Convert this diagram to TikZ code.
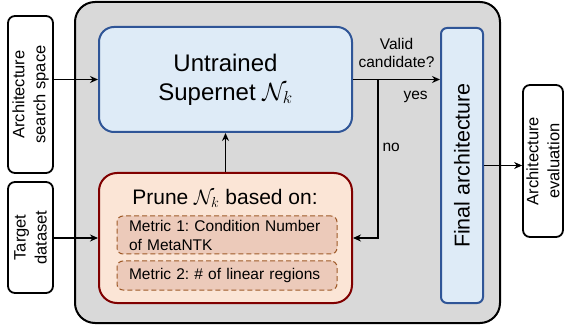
\documentclass[tikz,border=0pt]{standalone}
\usepackage{fontspec}
\setmainfont{Liberation Sans}
\frenchspacing
\usetikzlibrary{arrows.meta, positioning, calc}
\definecolor{panelgray}{RGB}{217,217,217}
\definecolor{netfill}{RGB}{222,235,247}
\definecolor{netdraw}{RGB}{47,85,151}
\definecolor{prunefill}{RGB}{251,229,214}
\definecolor{prunedraw}{RGB}{128,0,0}
\definecolor{metricfill}{RGB}{236,202,186}
\definecolor{metricdraw}{RGB}{158,90,40}
\tikzstyle{panel} = [rectangle, rounded corners=20pt, draw=black, line width=2pt, fill=panelgray]
\tikzstyle{extbox} = [rectangle, rounded corners=7pt, draw=black, line width=1.8pt, fill=white,
    rotate=90, align=center, font=\fontsize{16.5}{21}\selectfont, inner sep=2pt]
\tikzstyle{netbox} = [rectangle, rounded corners=15pt, draw=netdraw, line width=2pt, fill=netfill, align=center]
\tikzstyle{prunebox} = [rectangle, rounded corners=18pt, draw=prunedraw, line width=2pt, fill=prunefill]
\tikzstyle{metric} = [rectangle, rounded corners=6pt, draw=metricdraw, dash pattern=on 5pt off 3pt,
    line width=1pt, fill=metricfill, text width=196pt, inner xsep=12pt, align=left,
    font=\fontsize{15.5}{19}\selectfont]
\tikzstyle{arrow} = [line width=1.1pt, -{Stealth[length=8pt,width=7pt]}]
\tikzstyle{lbl} = [font=\fontsize{15.5}{18}\selectfont, inner sep=2pt, align=center]

\begin{document}
\begin{tikzpicture}[x=1pt, y=1pt]
\useasboundingbox (0,0) rectangle (568,327);
\node (panel) [panel, minimum width=425pt, minimum height=321pt] at (287.5,164.5) {};

\node (arch) [extbox, minimum width=157pt, minimum height=45pt] at (30.5,232.5) {Architecture\\search space};
\node (target) [extbox, minimum width=111pt, minimum height=45pt] at (30.5,89.5) {Target\\dataset};

\node (supernet) [netbox, minimum width=253pt, minimum height=105pt, font=\fontsize{24}{29}\selectfont]
    at (225.5,247.5) {Untrained\\Supernet $\mathcal{N}_k$};

\node (prune) [prunebox, minimum width=253pt, minimum height=130pt] at (225.5,89) {};
\node (prunetitle) [font=\fontsize{21}{25}\selectfont, inner sep=0pt] at (225,129) {Prune $\mathcal{N}_k$ based on:};
\node (metric1) [metric, minimum height=38pt] at (227,92) {Metric 1: Condition Number\\of MetaNTK};
\node (metric2) [metric, minimum height=29pt] at (227,51.5) {Metric 2: \# of linear regions};

\node (final) [netbox, rounded corners=6pt, rotate=90, minimum width=275pt, minimum height=42pt,
    font=\fontsize{21.5}{25}\selectfont] at (462,161.5) {Final architecture};
\node (eval) [extbox, minimum width=152pt, minimum height=40pt] at (543,166) {Architecture\\evaluation};

\coordinate (split) at ($(supernet.east)+(25,0)$);

\draw[arrow] (arch.south |- supernet.west) -- (supernet.west);
\draw[arrow] (target.south |- prune.west) -- (prune.west);
\draw[arrow] (prune) -- (supernet);
\draw[arrow] (supernet.east) -- node[lbl, above=9pt]{Valid\\candidate?}
    node[lbl, below=9pt, pos=0.72]{yes} (supernet.east -| final.north);
\draw[arrow] (split) |- node[lbl, right=2pt, pos=0.215]{no} (prune.east);
\draw[arrow] (final.south) -- (final.south -| eval.north);
\end{tikzpicture}
\end{document}
